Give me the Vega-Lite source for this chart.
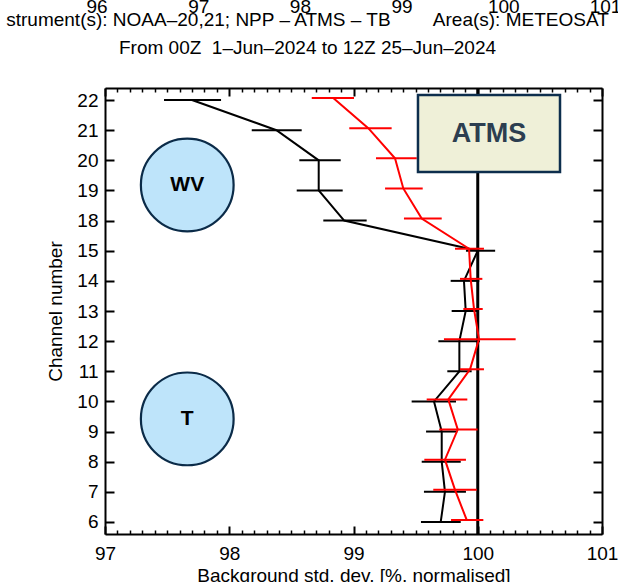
{
  "$schema": "https://vega.github.io/schema/vega-lite/v6.json",
  "autosize": {"type": "none"},
  "padding": {"left": 105, "top": 88, "right": 16, "bottom": 48},
  "width": 497,
  "height": 446,
  "background": "white",
  "config": {
    "font": "Liberation Sans",
    "view": {"stroke": null},
    "axis": {
      "domainColor": "black", "tickColor": "black", "labelColor": "black", "titleColor": "black",
      "domainWidth": 2, "tickWidth": 2, "labelFont": "Liberation Sans", "titleFont": "Liberation Sans",
      "labelFontSize": 19, "titleFontSize": 19, "titleFontWeight": "normal", "grid": false,
      "labelFlush": false, "labelOverlap": false
    }
  },
  "title": {
    "text": ["strument(s): NOAA\u201320,21; NPP \u2013 ATMS \u2013 TB\u00a0\u00a0\u00a0\u00a0\u00a0\u00a0\u00a0\u00a0Area(s): METEOSAT", "From 00Z\u00a0\u00a01\u2013Jun\u20132024 to 12Z 25\u2013Jun\u20132024"],
    "font": "Liberation Sans", "fontSize": 19, "fontWeight": "normal", "color": "black",
    "anchor": "middle", "frame": "group", "baseline": "bottom", "offset": -79.5, "lineHeight": 28, "dx": -46
  },
  "datasets": {
    "toplabels": [{"v": 96}, {"v": 97}, {"v": 98}, {"v": 99}, {"v": 100}, {"v": 101}],
    "ref": [{"x": 100}],
    "blk": [
      {"channel": 22, "value": 97.70, "lo": 97.475, "hi": 97.934},
      {"channel": 21, "value": 98.38, "lo": 98.181, "hi": 98.583},
      {"channel": 20, "value": 98.72, "lo": 98.564, "hi": 98.897},
      {"channel": 19, "value": 98.72, "lo": 98.543, "hi": 98.913},
      {"channel": 18, "value": 98.925, "lo": 98.757, "hi": 99.106},
      {"channel": 15, "value": 100.0, "lo": 99.905, "hi": 100.14},
      {"channel": 14, "value": 99.889, "lo": 99.782, "hi": 100.012},
      {"channel": 13, "value": 99.903, "lo": 99.79, "hi": 100.01},
      {"channel": 12, "value": 99.852, "lo": 99.683, "hi": 100.018},
      {"channel": 11, "value": 99.852, "lo": 99.755, "hi": 99.951},
      {"channel": 10, "value": 99.648, "lo": 99.468, "hi": 99.825},
      {"channel": 9, "value": 99.71, "lo": 99.584, "hi": 99.835},
      {"channel": 8, "value": 99.71, "lo": 99.549, "hi": 99.863},
      {"channel": 7, "value": 99.736, "lo": 99.567, "hi": 99.905},
      {"channel": 6, "value": 99.702, "lo": 99.543, "hi": 99.863}
    ],
    "red": [
      {"channel": 22, "value": 98.837, "lo": 98.664, "hi": 99.004},
      {"channel": 21, "value": 99.119, "lo": 98.966, "hi": 99.307},
      {"channel": 20, "value": 99.334, "lo": 99.181, "hi": 99.509},
      {"channel": 19, "value": 99.401, "lo": 99.254, "hi": 99.557},
      {"channel": 18, "value": 99.549, "lo": 99.406, "hi": 99.71},
      {"channel": 15, "value": 99.93, "lo": 99.817, "hi": 100.05},
      {"channel": 14, "value": 99.943, "lo": 99.857, "hi": 100.037},
      {"channel": 13, "value": 99.97, "lo": 99.884, "hi": 100.04},
      {"channel": 12, "value": 100.01, "lo": 99.728, "hi": 100.305},
      {"channel": 11, "value": 99.938, "lo": 99.857, "hi": 100.05},
      {"channel": 10, "value": 99.763, "lo": 99.589, "hi": 99.916},
      {"channel": 9, "value": 99.839, "lo": 99.69, "hi": 99.999},
      {"channel": 8, "value": 99.736, "lo": 99.57, "hi": 99.905},
      {"channel": 7, "value": 99.817, "lo": 99.642, "hi": 99.992},
      {"channel": 6, "value": 99.911, "lo": 99.785, "hi": 100.045}
    ],
    "box": [{"label": "ATMS", "x1": 99.519, "x2": 100.662, "y1": 11.61, "y2": 14.17, "xc": 100.09, "yc": 12.89}],
    "circles": [{"label": "WV", "x": 97.662, "y": 11.18}, {"label": "T", "x": 97.662, "y": 3.42}]
  },
  "resolve": {"scale": {"x": "independent", "y": "independent"}},
  "layer": [
    {
      "data": {"name": "ref"},
      "mark": {"type": "rule", "color": "black", "strokeWidth": 3},
      "encoding": {
        "x": {"field": "x", "type": "quantitative", "scale": {"domain": [97, 101], "nice": false, "zero": false},
          "axis": {"orient": "bottom", "values": [97, 98, 99, 100, 101], "ticks": false, "labelPadding": 10, "title": "Background std. dev. [%, normalised]", "titlePadding": 3, "domain": true}}
      }
    },
    {
      "data": {"name": "blk"},
      "mark": {"type": "line", "color": "black", "strokeWidth": 2},
      "encoding": {
        "x": {"field": "value", "type": "quantitative", "scale": {"domain": [97, 101], "nice": false, "zero": false},
          "axis": {"orient": "bottom", "values": [97, 98, 99, 100, 101], "labels": false, "tickSize": -8, "domain": false, "title": null}},
        "y": {"field": "channel", "type": "ordinal", "scale": {"type": "point", "domain": [22, 21, 20, 19, 18, 15, 14, 13, 12, 11, 10, 9, 8, 7, 6], "padding": 0.4},
          "axis": {"orient": "left", "ticks": false, "labelPadding": 7, "title": "Channel number", "titlePadding": 11, "domain": true}},
        "order": {"field": "channel", "type": "quantitative"}
      }
    },
    {
      "data": {"name": "blk"},
      "mark": {"type": "rule", "color": "black", "strokeWidth": 2},
      "encoding": {
        "x": {"field": "lo", "type": "quantitative", "scale": {"domain": [97, 101], "nice": false, "zero": false},
          "axis": {"orient": "bottom", "values": [97.1, 97.2, 97.3, 97.4, 97.5, 97.6, 97.7, 97.8, 97.9, 98.1, 98.2, 98.3, 98.4, 98.5, 98.6, 98.7, 98.8, 98.9, 99.1, 99.2, 99.3, 99.4, 99.5, 99.6, 99.7, 99.8, 99.9, 100.1, 100.2, 100.3, 100.4, 100.5, 100.6, 100.7, 100.8, 100.9], "labels": false, "tickSize": -4, "tickWidth": 1.5, "domain": false, "title": null}},
        "x2": {"field": "hi"},
        "y": {"field": "channel", "type": "ordinal", "scale": {"type": "point", "domain": [22, 21, 20, 19, 18, 15, 14, 13, 12, 11, 10, 9, 8, 7, 6], "padding": 0.4},
          "axis": {"orient": "left", "labels": false, "tickSize": -9, "domain": false, "title": null}}
      }
    },
    {
      "data": {"name": "red"},
      "mark": {"type": "line", "color": "#ff0000", "strokeWidth": 2, "yOffset": -2},
      "encoding": {
        "x": {"field": "value", "type": "quantitative", "scale": {"domain": [97, 101], "nice": false, "zero": false},
          "axis": {"orient": "top", "values": [97, 98, 99, 100, 101], "labels": false, "tickSize": -8, "domain": true, "title": null}},
        "y": {"field": "channel", "type": "ordinal", "scale": {"type": "point", "domain": [22, 21, 20, 19, 18, 15, 14, 13, 12, 11, 10, 9, 8, 7, 6], "padding": 0.4},
          "axis": {"orient": "right", "labels": false, "tickSize": -9, "domain": true, "title": null}},
        "order": {"field": "channel", "type": "quantitative"}
      }
    },
    {
      "data": {"name": "red"},
      "mark": {"type": "rule", "color": "#ff0000", "strokeWidth": 2, "yOffset": -2},
      "encoding": {
        "x": {"field": "lo", "type": "quantitative", "scale": {"domain": [97, 101], "nice": false, "zero": false},
          "axis": {"orient": "top", "values": [97.1, 97.2, 97.3, 97.4, 97.5, 97.6, 97.7, 97.8, 97.9, 98.1, 98.2, 98.3, 98.4, 98.5, 98.6, 98.7, 98.8, 98.9, 99.1, 99.2, 99.3, 99.4, 99.5, 99.6, 99.7, 99.8, 99.9, 100.1, 100.2, 100.3, 100.4, 100.5, 100.6, 100.7, 100.8, 100.9], "labels": false, "tickSize": -4, "tickWidth": 1.5, "domain": false, "title": null}},
        "x2": {"field": "hi"},
        "y": {"field": "channel", "type": "ordinal", "scale": {"type": "point", "domain": [22, 21, 20, 19, 18, 15, 14, 13, 12, 11, 10, 9, 8, 7, 6], "padding": 0.4}, "axis": null}
      }
    },
    {
      "data": {"name": "box"},
      "mark": {"type": "rect", "fill": "#eff0d8", "stroke": "#0d2e4d", "strokeWidth": 2.5},
      "encoding": {
        "x": {"field": "x1", "type": "quantitative", "scale": {"domain": [97, 101], "nice": false, "zero": false}, "axis": null},
        "x2": {"field": "x2"},
        "y": {"field": "y1", "type": "quantitative", "scale": {"domain": [-0.4, 14.4], "nice": false, "zero": false}, "axis": null},
        "y2": {"field": "y2"}
      }
    },
    {
      "data": {"name": "box"},
      "mark": {"type": "text", "fontSize": 27, "fontWeight": "bold", "font": "Liberation Sans", "color": "#2c3e50", "align": "center", "baseline": "middle"},
      "encoding": {
        "x": {"field": "xc", "type": "quantitative", "scale": {"domain": [97, 101], "nice": false, "zero": false}, "axis": null},
        "y": {"field": "yc", "type": "quantitative", "scale": {"domain": [-0.4, 14.4], "nice": false, "zero": false}, "axis": null},
        "text": {"field": "label"}
      }
    },
    {
      "data": {"name": "circles"},
      "mark": {"type": "point", "shape": "circle", "filled": true, "fill": "#bee4fa", "stroke": "#0b2b48", "strokeWidth": 2.2, "size": 8600, "opacity": 1},
      "encoding": {
        "x": {"field": "x", "type": "quantitative", "scale": {"domain": [97, 101], "nice": false, "zero": false}, "axis": null},
        "y": {"field": "y", "type": "quantitative", "scale": {"domain": [-0.4, 14.4], "nice": false, "zero": false}, "axis": null}
      }
    },
    {
      "data": {"name": "circles"},
      "mark": {"type": "text", "fontSize": 21, "fontWeight": "bold", "font": "Liberation Sans", "color": "black", "align": "center", "baseline": "middle"},
      "encoding": {
        "x": {"field": "x", "type": "quantitative", "scale": {"domain": [97, 101], "nice": false, "zero": false}, "axis": null},
        "y": {"field": "y", "type": "quantitative", "scale": {"domain": [-0.4, 14.4], "nice": false, "zero": false}, "axis": null},
        "text": {"field": "label"}
      }
    },
    {
      "data": {"name": "toplabels"},
      "mark": {"type": "text", "fontSize": 19, "font": "Liberation Sans", "color": "black", "align": "center", "baseline": "alphabetic"},
      "encoding": {
        "x": {"field": "v", "type": "quantitative", "scale": {"domain": [96.0787, 100.9656], "nice": false, "zero": false}, "axis": null},
        "y": {"datum": 16.9, "type": "quantitative", "scale": {"domain": [-0.4, 14.4], "nice": false, "zero": false}, "axis": null},
        "text": {"field": "v", "type": "quantitative"}
      }
    }
  ]
}
